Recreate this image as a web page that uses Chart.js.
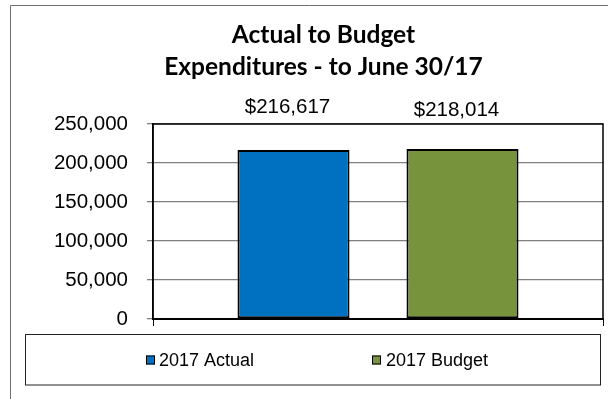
<!DOCTYPE html>
<html>
<head>
<meta charset="utf-8">
<script src="https://cdn.jsdelivr.net/npm/chart.js@4/dist/chart.umd.min.js"></script>
<style>
  html, body { margin: 0; padding: 0; background: #fff; overflow: hidden; }
  #c { display: block; }
</style>
</head>
<body>
<canvas id="c" width="608" height="399"></canvas>
<script>
const categories = ['2017'];
const seriesNames = ['2017 Actual', '2017 Budget'];
const actualValues = [216617];
const budgetValues = [218014];
const yTicks = [0, 50000, 100000, 150000, 200000, 250000];
const titleLines = ['Actual to Budget', 'Expenditures - to June 30/17'];
const seriesColors = ['#0070C0', '#77933C'];

const fmt = v => v.toLocaleString('en-US');

const decor = {
  id: 'decor',
  beforeDraw(chart) {
    const ctx = chart.ctx;
    ctx.save();
    ctx.fillStyle = '#fff';
    ctx.fillRect(0, 0, chart.width, chart.height);
    // outer chart border (cropped on right/bottom)
    ctx.strokeStyle = '#6e6e6e';
    ctx.lineWidth = 1;
    ctx.beginPath();
    ctx.moveTo(10.5, chart.height + 2);
    ctx.lineTo(10.5, 5.5);
    ctx.lineTo(chart.width + 2, 5.5);
    ctx.stroke();
    ctx.restore();
  },
  afterLayout(chart) {
    // the original chart is wider than the visible crop: centre title on it
    const tb = chart.titleBlock;
    if (tb) { tb.left += 22; tb.right += 22; }
  },
  afterDatasetsDraw(chart) {
    const ctx = chart.ctx;
    const a = chart.chartArea;
    ctx.save();
    // plot-area frame
    ctx.strokeStyle = '#000';
    ctx.lineWidth = 1.5;
    ctx.strokeRect(a.left, a.top, a.right - a.left, a.bottom - a.top);
    // data labels
    ctx.fillStyle = '#000';
    ctx.font = '20.5px "Liberation Sans", Arial, sans-serif';
    ctx.textAlign = 'center';
    ctx.textBaseline = 'middle';
    const lift = [43, 39];
    chart.data.datasets.forEach((ds, i) => {
      const meta = chart.getDatasetMeta(i);
      meta.data.forEach((bar, j) => {
        ctx.fillText('$' + fmt(ds.data[j]), bar.x - 6, bar.y - lift[i]);
      });
    });
    // legend
    const lx = 25.5, ly = 334.5, lw = 575, lh = 50.5;
    ctx.strokeStyle = '#222';
    ctx.lineWidth = 1;
    ctx.strokeRect(lx, ly, lw, lh);
    const boxX = [146, 372];
    const textX = [159, 386];
    const cy = 360;
    ctx.font = '18px "Liberation Sans", Arial, sans-serif';
    ctx.textAlign = 'left';
    chart.data.datasets.forEach((ds, i) => {
      ctx.fillStyle = ds.backgroundColor;
      ctx.fillRect(boxX[i], cy - 4.5, 9, 9);
      ctx.strokeStyle = '#000';
      ctx.strokeRect(boxX[i] + 0.5, cy - 4, 8, 8);
      ctx.fillStyle = '#000';
      ctx.fillText(ds.label, textX[i], cy + 1);
    });
    ctx.restore();
  }
};

new Chart(document.getElementById('c'), {
  type: 'bar',
  data: {
    labels: categories,
    datasets: [
      { label: seriesNames[0], data: actualValues, backgroundColor: seriesColors[0],
        borderColor: '#000', borderWidth: 2, borderSkipped: false },
      { label: seriesNames[1], data: budgetValues, backgroundColor: seriesColors[1],
        borderColor: '#000', borderWidth: 2, borderSkipped: false }
    ]
  },
  options: {
    responsive: false,
    animation: false,
    devicePixelRatio: 1,
    layout: { padding: { left: 0, right: 5, top: 0, bottom: 70 } },
    datasets: { bar: { categoryPercentage: 0.751, barPercentage: 0.663 } },
    plugins: {
      legend: { display: false },
      tooltip: { enabled: false },
      title: {
        display: true,
        text: titleLines,
        color: '#000',
        font: { family: 'Lato', weight: 'bold', size: 24.5, lineHeight: 32 / 24.5 },
        padding: { top: 19, bottom: 41 }
      }
    },
    scales: {
      x: {
        offset: true,
        afterFit(s) { s.height = 10; },
        ticks: { display: false },
        grid: { offset: true, drawOnChartArea: false, drawTicks: true, tickLength: 7, tickColor: '#000', tickWidth: 1 },
        border: { color: '#000', width: 2 }
      },
      y: {
        min: 0,
        max: 250000,
        afterFit(s) { s.width = 153; },
        afterBuildTicks(s) { s.ticks = yTicks.map(v => ({ value: v })); },
        ticks: {
          color: '#000',
          padding: 19,
          font: { family: '"Liberation Sans", Arial, sans-serif', size: 20.5 },
          callback: v => fmt(v)
        },
        grid: { color: '#808080', lineWidth: 1.3, tickLength: 6, tickColor: '#808080' },
        border: { color: '#000', width: 1.5 }
      }
    }
  },
  plugins: [decor]
});
</script>
</body>
</html>
